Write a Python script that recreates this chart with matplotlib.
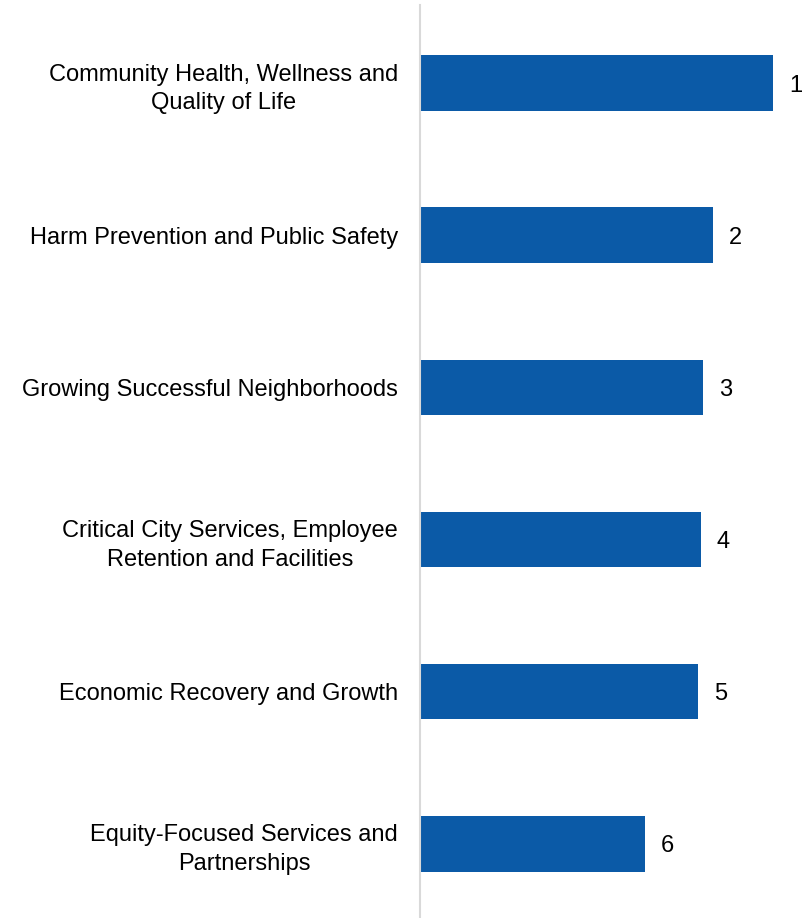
import matplotlib.pyplot as plt

plt.rcParams['font.family'] = ['Liberation Sans', 'DejaVu Sans']

# priorities, top to bottom, with bar lengths
categories = [
    "Community Health, Wellness and\nQuality of Life",
    "Harm Prevention and Public Safety",
    "Growing Successful Neighborhoods",
    "Critical City Services, Employee\nRetention and Facilities",
    "Economic Recovery and Growth",
    "Equity-Focused Services and\nPartnerships",
]
scores = [353, 293, 283, 281, 278, 225]
ranks = ["1", "2", "3", "4", "5", "6"]

fig = plt.figure(figsize=(8.12, 9.18), dpi=100)
ax = fig.add_axes([420 / 812, 0, 1 - 420 / 812, 1 - 5 / 918])

y = list(range(len(categories)))
bars = ax.barh(y, scores, height=0.365, color="#0B5AA7")

for bar, r in zip(bars, ranks):
    ax.text(bar.get_width() + 16, bar.get_y() + bar.get_height() / 2, r,
            va="center_baseline", ha="left", fontsize=17, color="black")

ax.set_xlim(0, 392)
ax.set_ylim(5.487, -0.513)
ax.set_yticks(y)
ax.set_yticklabels(categories, fontsize=17)
for lbl in ax.get_yticklabels():
    lbl.set_multialignment("center")
    lbl.set_linespacing(1.4)
ax.tick_params(axis="y", length=0, pad=16)
ax.set_xticks([])

for s in ["top", "right", "bottom"]:
    ax.spines[s].set_visible(False)
ax.spines["left"].set_color("#D9D9D9")
ax.spines["left"].set_linewidth(1.5)

fig.savefig("out.png", dpi=100)
